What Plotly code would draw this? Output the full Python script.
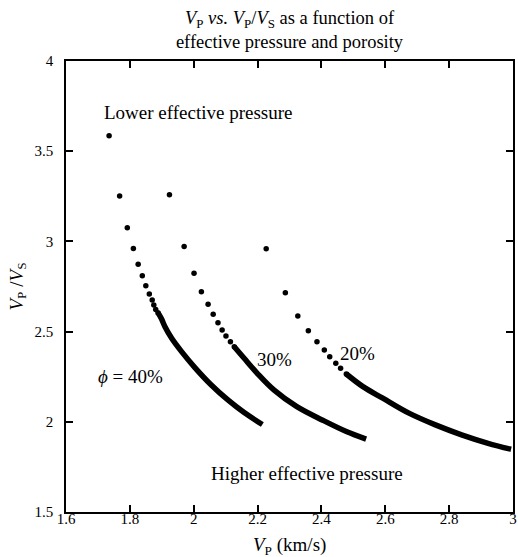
import plotly.graph_objects as go

# ---- data ----
# phi = 40 %
dots40_x = [1.735, 1.768, 1.792, 1.811, 1.826, 1.839, 1.850, 1.861, 1.870, 1.875, 1.881, 1.888]
dots40_y = [3.585, 3.252, 3.075, 2.961, 2.874, 2.810, 2.754, 2.708, 2.675, 2.647, 2.623, 2.605]
dense40_x = [1.888, 1.899, 1.910, 1.931, 1.962, 2.003, 2.055, 2.107, 2.158, 2.215]
dense40_y = [2.605, 2.571, 2.527, 2.463, 2.389, 2.302, 2.204, 2.121, 2.051, 1.985]

# phi = 30 %
dots30_x = [1.924, 1.970, 2.001, 2.024, 2.045, 2.061, 2.076, 2.089, 2.101, 2.115, 2.127]
dots30_y = [3.258, 2.972, 2.823, 2.721, 2.651, 2.596, 2.549, 2.509, 2.476, 2.444, 2.416]
dense30_x = [2.127, 2.158, 2.199, 2.251, 2.323, 2.406, 2.478, 2.540]
dense30_y = [2.416, 2.352, 2.269, 2.177, 2.084, 2.007, 1.946, 1.904]

# phi = 20 %
dots20_x = [2.227, 2.287, 2.326, 2.359, 2.386, 2.409, 2.426, 2.445, 2.460, 2.478]
dots20_y = [2.959, 2.715, 2.586, 2.505, 2.444, 2.398, 2.361, 2.324, 2.297, 2.265]
dense20_x = [2.478, 2.530, 2.592, 2.674, 2.757, 2.839, 2.922, 2.994]
dense20_y = [2.265, 2.195, 2.131, 2.048, 1.983, 1.928, 1.881, 1.848]

x_ticks = [1.6, 1.8, 2.0, 2.2, 2.4, 2.6, 2.8, 3.0]
x_ticktext = ["1.6", "1.8", "2", "2.2", "2.4", "2.6", "2.8", "3"]
y_ticks = [1.5, 2.0, 2.5, 3.0, 3.5, 4.0]
y_ticktext = ["1.5", "2", "2.5", "3", "3.5", "4"]

FONT = "Liberation Serif, Times New Roman, serif"

fig = go.Figure()
for dx, dy, lx, ly in [
    (dots40_x, dots40_y, dense40_x, dense40_y),
    (dots30_x, dots30_y, dense30_x, dense30_y),
    (dots20_x, dots20_y, dense20_x, dense20_y),
]:
    fig.add_trace(go.Scatter(x=lx, y=ly, mode="lines",
                             line=dict(color="black", width=5.5, shape="spline"),
                             showlegend=False, hoverinfo="skip"))
    fig.add_trace(go.Scatter(x=dx, y=dy, mode="markers",
                             marker=dict(color="black", size=5.5),
                             showlegend=False))

axis_common = dict(
    showline=True, linecolor="black", linewidth=1.5, mirror="ticks",
    ticks="inside", ticklen=7, tickwidth=1.5, tickcolor="black",
    showgrid=False, zeroline=False,
    tickfont=dict(family=FONT, size=15, color="black"),
)

fig.update_xaxes(range=[1.6, 3.0], tickvals=x_ticks, ticktext=x_ticktext,
                 ticklabelstandoff=-8, ticklabeloverflow="allow", **axis_common)
fig.update_yaxes(range=[1.5, 4.0], tickvals=y_ticks, ticktext=y_ticktext,
                 ticklabelstandoff=8, ticklabeloverflow="allow", **axis_common)

annotations = [
    dict(text="Lower effective pressure", x=1.713, y=3.716, xanchor="left",
         yanchor="middle", showarrow=False),
    dict(text="Higher effective pressure", x=2.354, y=1.711, xanchor="center",
         yanchor="middle", showarrow=False),
    dict(text="<i>\u03d5</i> = 40%", x=1.695, y=2.249, xanchor="left",
         yanchor="middle", showarrow=False),
    dict(text="30%", x=2.193, y=2.348, xanchor="left", yanchor="middle",
         showarrow=False),
    dict(text="20%", x=2.453, y=2.376, xanchor="left", yanchor="middle",
         showarrow=False),
    dict(text="<i>V</i><sub>P</sub> (km/s)", xref="paper", yref="paper",
         x=0.5, y=0, yanchor="middle", yshift=-34, showarrow=False),
    dict(text="<i>V</i><sub>P</sub> /<i>V</i><sub>S</sub>", xref="paper", yref="paper",
         x=0, y=0.5, xanchor="center", yanchor="middle", xshift=-49,
         textangle=-90, showarrow=False),
]
for a in annotations:
    a["font"] = dict(family=FONT, size=19, color="black")

fig.update_layout(
    width=518, height=557,
    margin=dict(l=66, r=1, t=61, b=45),
    paper_bgcolor="white", plot_bgcolor="white",
    title=dict(
        text="<i>V</i><sub>P</sub> <i>vs.</i> <i>V</i><sub>P</sub>/<i>V</i><sub>S</sub> as a function of<br>effective pressure and porosity",
        x=0.5, xref="paper", y=1 - 24 / 557, yref="container",
        xanchor="center", yanchor="middle",
        font=dict(family=FONT, size=18.5, color="black"),
    ),
    annotations=annotations,
)

fig.write_html("out.html")
